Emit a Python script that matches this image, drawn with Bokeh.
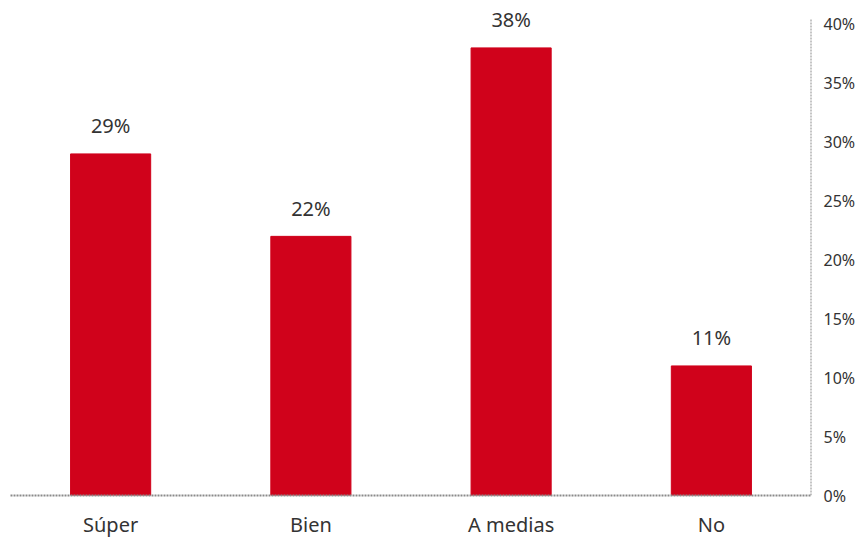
from bokeh.plotting import figure
from bokeh.models import ColumnDataSource, LabelSet, FixedTicker, CustomJSTickFormatter
from bokeh.core.properties import value
from bokeh.embed import file_html
from bokeh.resources import INLINE

categories = ["Súper", "Bien", "A medias", "No"]
values = [29, 22, 38, 11]
value_labels = ["29%", "22%", "38%", "11%"]
y_ticks = [0, 5, 10, 15, 20, 25, 30, 35, 40]
axis_top = 40.5

FONT = "Noto Sans"
RED = "#D0021B"
GREY = "#8a8a8a"

xs = list(range(len(categories)))
src = ColumnDataSource(dict(x=xs, val=values, lab=value_labels))

right_edge = len(categories) - 0.5
p = figure(x_range=(-0.5, right_edge), y_range=(0, 41.6), width=858, height=540,
           output_backend="svg", toolbar_location=None, y_axis_location="right",
           min_border_left=10, min_border_top=5, min_border_bottom=43, min_border_right=0)
p.outline_line_color = None
p.xgrid.grid_line_color = None
p.ygrid.grid_line_color = None

p.vbar(x="x", top="val", width=0.4, source=src, fill_color=RED, line_color=RED)

# right axis line, stopping just above the 40% tick
p.segment(x0=[right_edge], y0=[0], x1=[right_edge], y1=[axis_top],
          line_color=GREY, line_width=2, line_dash="2 1")

labels = LabelSet(x="x", y="val", text="lab", source=src, y_offset=28,
                  text_align="center", text_baseline="middle",
                  text_font=value(FONT), text_font_size="20px", text_color="#333333")
p.add_layout(labels)

for ax in (p.xaxis[0], p.yaxis[0]):
    ax.axis_line_color = GREY
    ax.axis_line_width = 2
    ax.axis_line_dash = "2 1"
    ax.major_tick_line_color = None
    ax.minor_tick_line_color = None
    ax.major_label_text_font = FONT
    ax.major_label_text_color = "#333333"

p.yaxis.axis_line_color = None
p.xaxis.ticker = FixedTicker(ticks=xs)
p.xaxis.major_label_overrides = {i: c for i, c in zip(xs, categories)}
p.xaxis.major_label_text_font_size = "20px"
p.xaxis.major_label_standoff = 9
p.yaxis.major_label_text_font_size = "16px"
p.yaxis.major_label_standoff = 6
p.yaxis.ticker = FixedTicker(ticks=y_ticks)
p.yaxis.formatter = CustomJSTickFormatter(code="return tick + '%';")

open("out.html", "w").write(file_html(p, INLINE))
